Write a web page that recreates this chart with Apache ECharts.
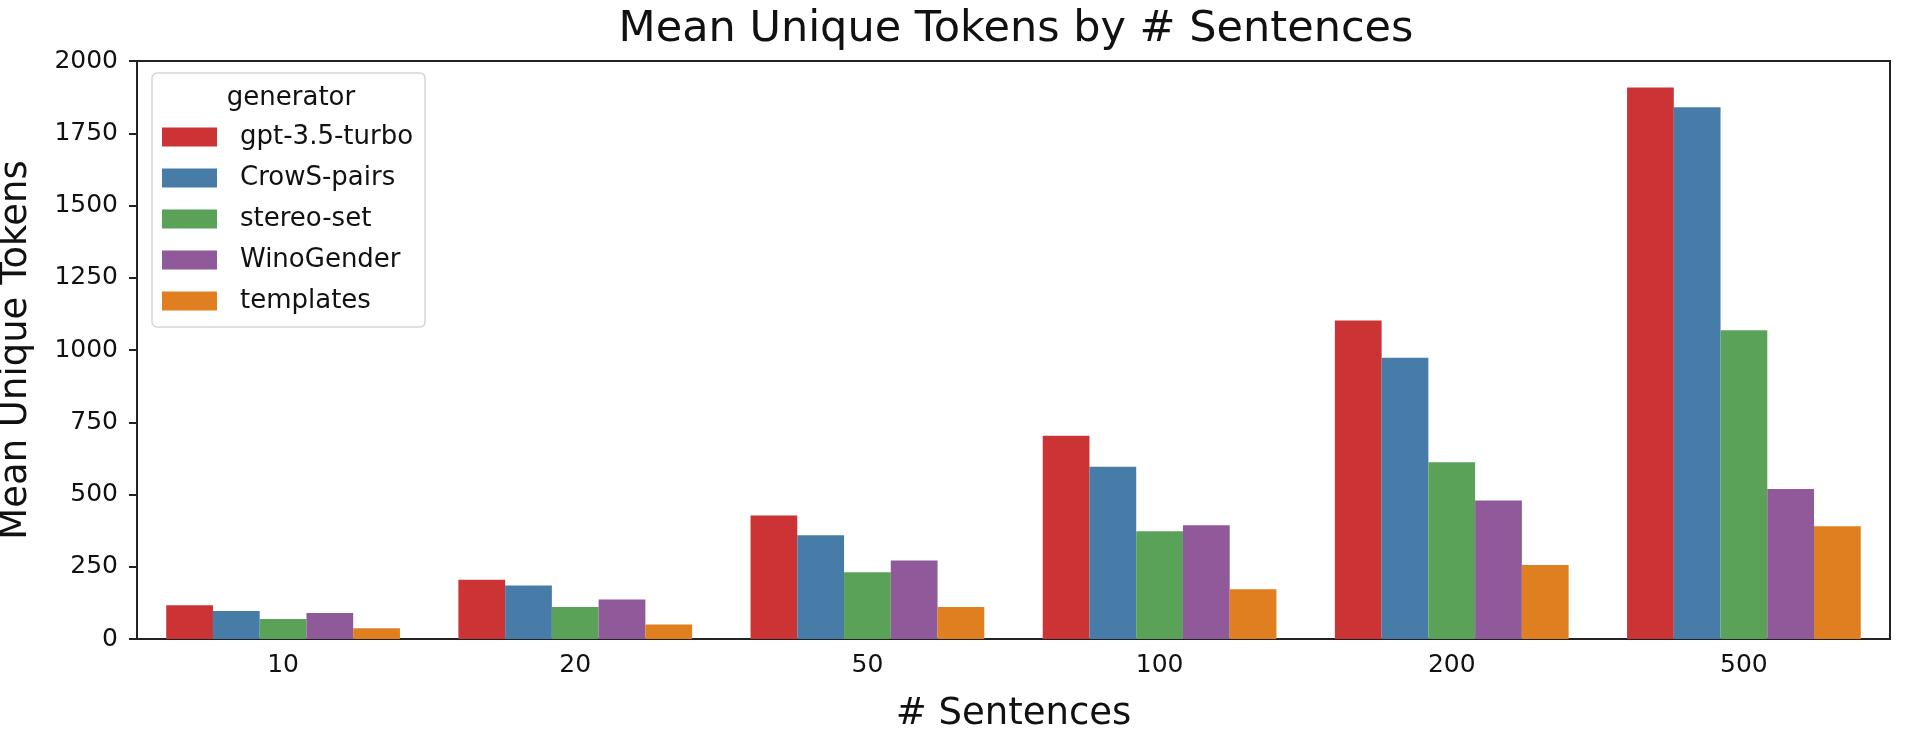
<!DOCTYPE html>
<html>
<head>
    <meta charset="utf-8">
    <script src="https://cdn.jsdelivr.net/npm/echarts@6/dist/echarts.min.js"></script>
</head>
<body style="margin: 0; background: #fff">
    <div id="container" style="width: 1906px; height: 732px;"></div>
    <script>
    // data
    var sentences = ['10', '20', '50', '100', '200', '500'];
    var gptTurbo  = [117, 205, 427, 703, 1102, 1908];
    var crowsPairs = [97, 185, 359, 596, 973, 1840];
    var stereoSet = [69, 111, 231, 373, 612, 1068];
    var winoGender = [90, 137, 272, 394, 479, 519];
    var templates = [37, 50, 111, 172, 256, 390];

    var generators = ['gpt-3.5-turbo', 'CrowS-pairs', 'stereo-set', 'WinoGender', 'templates'];
    var values = [gptTurbo, crowsPairs, stereoSet, winoGender, templates];
    var colors = ['#cb3335', '#477ca8', '#59a257', '#90599a', '#df7f20'];

    var font = 'DejaVu Sans';
    var chart = echarts.init(document.getElementById('container'));

    var series = generators.map(function (name, i) {
        return {
            name: name,
            type: 'bar',
            data: values[i],
            barGap: '0%',
            barCategoryGap: '20%',
            itemStyle: { color: colors[i] }
        };
    });

    var option = {
        animation: false,
        backgroundColor: '#fff',
        title: {
            text: 'Mean Unique Tokens by # Sentences',
            left: 1011, top: 3, textAlign: 'center',
            textStyle: { fontFamily: font, fontSize: 43, fontWeight: 'normal', color: '#111' }
        },
        grid: {
            left: 137, right: 16, top: 61, bottom: 93,
            outerBoundsMode: 'none',
            containLabel: false,
            show: true, borderColor: '#222', borderWidth: 2
        },
        legend: {
            data: generators,
            orient: 'vertical',
            left: 152, top: 73,
            padding: [51, 12, 13, 10],
            itemWidth: 55, itemHeight: 19,
            itemGap: 15,
            icon: 'rect',
            backgroundColor: 'rgba(255,255,255,0.8)',
            borderColor: '#d6d6d6', borderWidth: 1.5, borderRadius: 5,
            textStyle: { fontFamily: font, fontSize: 26, color: '#111', padding: [0, 0, 0, 18] }
        },
        graphic: [{
            type: 'text', x: 291, y: 98, z: 100,
            style: {
                text: 'generator', font: '26px "DejaVu Sans"', fill: '#111',
                align: 'center', verticalAlign: 'middle'
            }
        }],
        xAxis: {
            type: 'category',
            data: sentences,
            name: '# Sentences',
            nameLocation: 'middle',
            nameGap: 57,
            nameTextStyle: { fontFamily: font, fontSize: 37, color: '#111' },
            axisLine: { lineStyle: { color: '#222', width: 2 } },
            axisTick: { alignWithLabel: true, length: 9, lineStyle: { color: '#222', width: 2 } },
            axisLabel: { fontFamily: font, fontSize: 25, color: '#111', margin: 14 },
            splitLine: { show: false }
        },
        yAxis: {
            type: 'value',
            min: 0, max: 2000, interval: 250,
            name: 'Mean Unique Tokens',
            nameLocation: 'middle',
            nameGap: 102,
            nameTextStyle: { fontFamily: font, fontSize: 37, color: '#111' },
            axisLine: { show: true, lineStyle: { color: '#222', width: 2 } },
            axisTick: { show: true, length: 8, lineStyle: { color: '#222', width: 2 } },
            axisLabel: {
                fontFamily: font, fontSize: 25, color: '#111', margin: 19,
                formatter: function (v) { return String(v); }
            },
            splitLine: { show: false }
        },
        series: series
    };

    chart.setOption(option);
    </script>
</body>
</html>
